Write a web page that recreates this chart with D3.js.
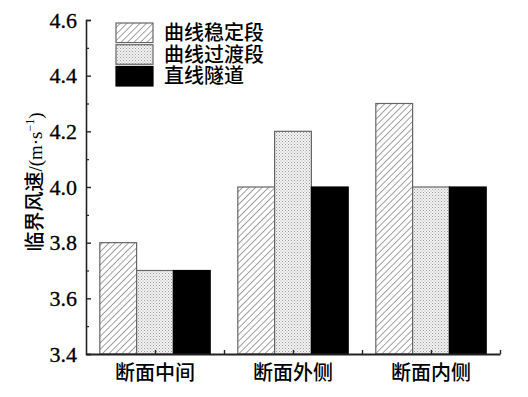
<!DOCTYPE html>
<html><head><meta charset="utf-8">
<script src="https://cdn.jsdelivr.net/npm/d3@7"></script>
<style>body{margin:0;background:#fff}svg{display:block}</style>
</head><body>
<script>
const categories = ["断面中间", "断面外侧", "断面内侧"];
const seriesNames = ["曲线稳定段", "曲线过渡段", "直线隧道"];
const stable = [3.8, 4.0, 4.3];
const transition = [3.7, 4.2, 4.0];
const straight = [3.7, 4.0, 4.0];
const yTicks = [3.4, 3.6, 3.8, 4.0, 4.2, 4.4, 4.6];
const yMinorTicks = [3.5, 3.7, 3.9, 4.1, 4.3, 4.5];
const seriesValues = [stable, transition, straight];

const W = 528, H = 397;
const svg = d3.select("body").append("svg").attr("width", W).attr("height", H);
const defs = svg.append("defs");
const hatch = defs.append("pattern").attr("id","hatch").attr("patternUnits","userSpaceOnUse")
  .attr("width",4.6).attr("height",4.6).attr("patternTransform","rotate(45)");
hatch.append("rect").attr("width",4.6).attr("height",4.6).attr("fill","#fff");
hatch.append("line").attr("x1",0).attr("y1",0).attr("x2",0).attr("y2",4.6).attr("stroke","#555").attr("stroke-width",1.1);
const dots = defs.append("pattern").attr("id","dots").attr("patternUnits","userSpaceOnUse")
  .attr("width",3).attr("height",3);
dots.append("rect").attr("width",3).attr("height",3).attr("fill","#f4f4f4");
dots.append("rect").attr("x",0).attr("y",0).attr("width",1).attr("height",1).attr("fill","#999");
dots.append("rect").attr("x",1.5).attr("y",1.5).attr("width",1).attr("height",1).attr("fill","#aaa");
const fills = ["url(#hatch)", "url(#dots)", "#000"];

const x0 = 86, x1 = 500, yTop = 20, yBot = 354;
const x = d3.scaleBand().domain(categories).range([x0, x1]).paddingInner(0.2).paddingOuter(0.1);
const xs = d3.scaleBand().domain(seriesNames).range([0, x.bandwidth()]);
const y = d3.scaleLinear().domain([3.4, 4.6]).range([yBot, yTop]);

// bars
categories.forEach((c, i) => {
  seriesNames.forEach((s, j) => {
    const v = seriesValues[j][i];
    svg.append("rect")
      .attr("x", x(c) + xs(s)).attr("y", y(v))
      .attr("width", xs.bandwidth()).attr("height", y(3.4) - y(v))
      .attr("fill", fills[j]).attr("stroke", j === 2 ? "#000" : "#666").attr("stroke-width", 1.2);
  });
});

// y axis
const yAxis = d3.axisLeft(y).tickValues(yTicks).tickSize(-5).tickFormat(d3.format(".1f")).tickPadding(9);
const gy = svg.append("g").attr("transform", `translate(${x0},0)`).call(yAxis);
gy.select(".domain").attr("stroke","#222").attr("stroke-width",1.6);
gy.selectAll(".tick line").attr("stroke","#222").attr("stroke-width",1.4);
gy.selectAll("text").attr("font-family","'Liberation Serif','Times New Roman',serif")
  .attr("font-size",22).attr("fill","#000").attr("stroke","#000").attr("stroke-width",0.3);
svg.append("g").attr("transform", `translate(${x0},0)`)
  .call(d3.axisLeft(y).tickValues(yMinorTicks).tickSize(-3).tickFormat(""))
  .call(g => { g.select(".domain").remove(); g.selectAll("line").attr("stroke","#222").attr("stroke-width",1.2); });

// x axis
const xAxisScale = d3.scaleLinear().domain([0, 6]).range([x0, x1]);
const gx = svg.append("g").attr("transform", `translate(0,${yBot})`)
  .call(d3.axisBottom(xAxisScale).tickValues([1,2,3,4,5,6]).tickSize(-4).tickFormat("").tickSizeOuter(0));
gx.select(".domain").attr("stroke","#222").attr("stroke-width",2);
gx.selectAll(".tick line").attr("stroke","#222").attr("stroke-width",1.4);
svg.selectAll(".cat").data(categories).enter().append("text")
  .attr("x", d => x(d) + x.bandwidth()/2).attr("y", 380)
  .attr("text-anchor","middle").attr("font-family","'Noto Sans CJK SC',sans-serif")
  .attr("font-size",20).attr("font-weight",500).attr("fill","#000").text(d => d);

// y title
const yt = svg.append("text").attr("transform","translate(42,182) rotate(-90)")
  .attr("text-anchor","middle").attr("font-size",20).attr("fill","#000");
yt.append("tspan").attr("font-family","'Noto Sans CJK SC',sans-serif").attr("font-weight",500).text("临界风速");
yt.append("tspan").attr("font-family","'Liberation Serif',serif").attr("font-size",19).text("/(m·s");
yt.append("tspan").attr("font-family","'Liberation Serif',serif").attr("font-size",12).attr("dy",-8).text("−1");
yt.append("tspan").attr("font-family","'Liberation Serif',serif").attr("font-size",19).attr("dy",8).text(")");

// legend
const legY = d3.scaleBand().domain(seriesNames).range([23, 86]).paddingInner(0.1);
seriesNames.forEach((s, j) => {
  svg.append("rect").attr("x",116).attr("y",legY(s)).attr("width",37).attr("height",legY.bandwidth())
    .attr("fill", fills[j]).attr("stroke", j===2?"#000":"#666").attr("stroke-width",1.2);
  svg.append("text").attr("x",164).attr("y",legY(s)+legY.bandwidth()/2+7)
    .attr("font-family","'Noto Sans CJK SC',sans-serif").attr("font-size",20).attr("font-weight",500)
    .attr("fill","#000").text(s);
});
</script>
</body></html>
